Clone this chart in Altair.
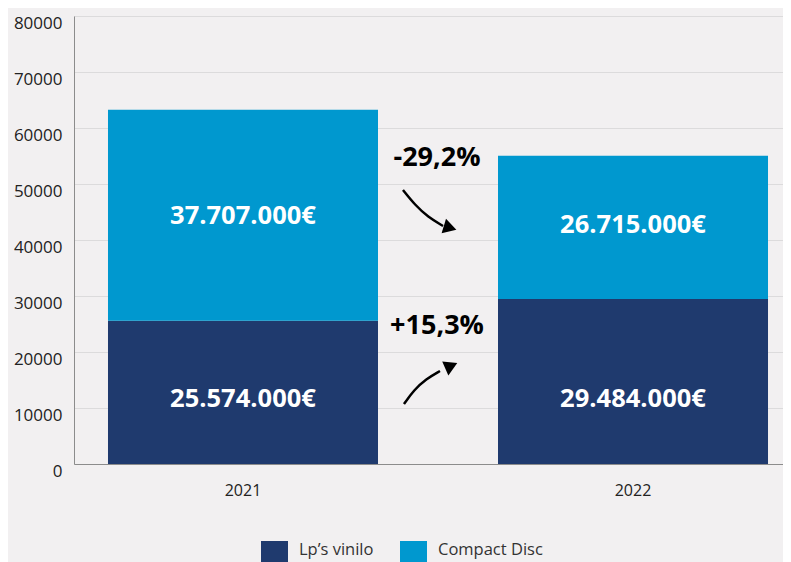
import altair as alt
import pandas as pd

# ---- data ----
years = ["2021", "2022"]
series = ["Lp’s vinilo", "Compact Disc"]
lp_values = [25574, 29484]
cd_values = [37707, 25570]
lp_labels = ["25.574.000€", "29.484.000€"]
cd_labels = ["37.707.000€", "26.715.000€"]
lp_label_y = [11600, 11600]
cd_label_y = [44290, 42680]
colors = ["#1f3a6e", "#0098cf"]
y_ticks = [0, 10000, 20000, 30000, 40000, 50000, 60000, 70000, 80000]

change_labels = ["-29,2%", "+15,3%"]
change_x = [0.512, 0.512]
change_y = [54730, 24730]

arrow_id = ["down"] * 4 + ["up"] * 4
arrow_x = [0.4640, 0.4810, 0.4993, 0.5205, 0.4654, 0.4795, 0.4965, 0.5162]
arrow_y = [48930, 46250, 44110, 42500, 10710, 13210, 15180, 16610]
head_x = [0.5275, 0.5293]
head_y = [42270, 17380]
head_angle = [107, 66]

FONT = "Open Sans"

bars_df = pd.DataFrame({
    "year": years * 2,
    "series": [series[0]] * 2 + [series[1]] * 2,
    "value": lp_values + cd_values,
    "order": [0, 0, 1, 1],
})
labels_df = pd.DataFrame({
    "year": years * 2,
    "label": lp_labels + cd_labels,
    "ly": lp_label_y + cd_label_y,
})
change_df = pd.DataFrame({"label": change_labels, "cx": change_x, "cy": change_y})
arrow_df = pd.DataFrame({"id": arrow_id, "ax": arrow_x, "ay": arrow_y})
head_df = pd.DataFrame({"hx": head_x, "hy": head_y, "angle": head_angle})


def band_scale():
    return alt.Scale(type="band", domain=years, paddingInner=0.3077, paddingOuter=0.0628, align=0.694)


y_scale = alt.Scale(domain=[0, 80000], nice=False)
q_scale = alt.Scale(domain=[0, 1], nice=False, zero=False)
y_axis = alt.Axis(values=y_ticks, format="d", ticks=False, labelPadding=12, labelOffset=7,
                  labelFontSize=17, labelColor="#222222", domainColor="#8c8c8c",
                  gridColor="#dcdbdc", minExtent=66, maxExtent=66)

bars = alt.Chart(bars_df).mark_bar().encode(
    x=alt.X("year:N", scale=band_scale(), title=None,
            axis=alt.Axis(labelAngle=0, ticks=False, labelPadding=18, labelFontSize=16,
                          labelColor="#222222", domainColor="#8c8c8c", grid=False)),
    y=alt.Y("value:Q", stack="zero", scale=y_scale, title=None, axis=y_axis),
    color=alt.Color("series:N", scale=alt.Scale(domain=series, range=colors), title=None,
                    legend=alt.Legend(orient="none", legendX=187, legendY=525, direction="horizontal",
                                      symbolType="square", symbolSize=729, symbolStrokeWidth=0,
                                      labelFontSize=16.5, labelColor="#333333", labelOffset=11,
                                      labelBaseline="alphabetic",
                                      columnPadding=26, padding=0)),
    order=alt.Order("order:Q", sort="ascending"),
)

bar_text = alt.Chart(labels_df).mark_text(
    font=FONT, fontWeight="bold", fontSize=25.5, color="white", baseline="middle", align="center"
).encode(
    x=alt.X("year:N", scale=band_scale(), axis=None, bandPosition=0.5),
    y=alt.Y("ly:Q", scale=y_scale, title=None, axis=y_axis),
    text="label:N",
)

arrows = alt.Chart(arrow_df).mark_line(interpolate="basis", strokeWidth=2.5, color="black").encode(
    x=alt.X("ax:Q", scale=q_scale, axis=None),
    y=alt.Y("ay:Q", scale=y_scale, title=None, axis=y_axis),
    detail="id:N",
)

heads = alt.Chart(head_df).mark_point(shape="triangle", filled=True, size=230, color="black",
                                       opacity=1, strokeWidth=0).encode(
    x=alt.X("hx:Q", scale=q_scale, axis=None),
    y=alt.Y("hy:Q", scale=y_scale, title=None, axis=y_axis),
    angle=alt.Angle("angle:Q", scale=None),
)

change_text = alt.Chart(change_df).mark_text(
    font=FONT, fontWeight="bold", fontSize=27, color="black", baseline="middle", align="center"
).encode(
    x=alt.X("cx:Q", scale=q_scale, axis=None),
    y=alt.Y("cy:Q", scale=y_scale, title=None, axis=y_axis),
    text="label:N",
)

chart = alt.layer(bars, bar_text, arrows, heads, change_text).resolve_scale(
    x="independent"
).properties(
    width=709, height=448,
    padding={"left": 66, "top": 8, "right": 0, "bottom": 110},
    autosize=alt.AutoSizeParams(type="none"),
    background="#f2f0f1",
).configure_view(stroke=None).configure(font=FONT)

chart.save("out.html", embed_options={"renderer": "svg", "actions": False})
